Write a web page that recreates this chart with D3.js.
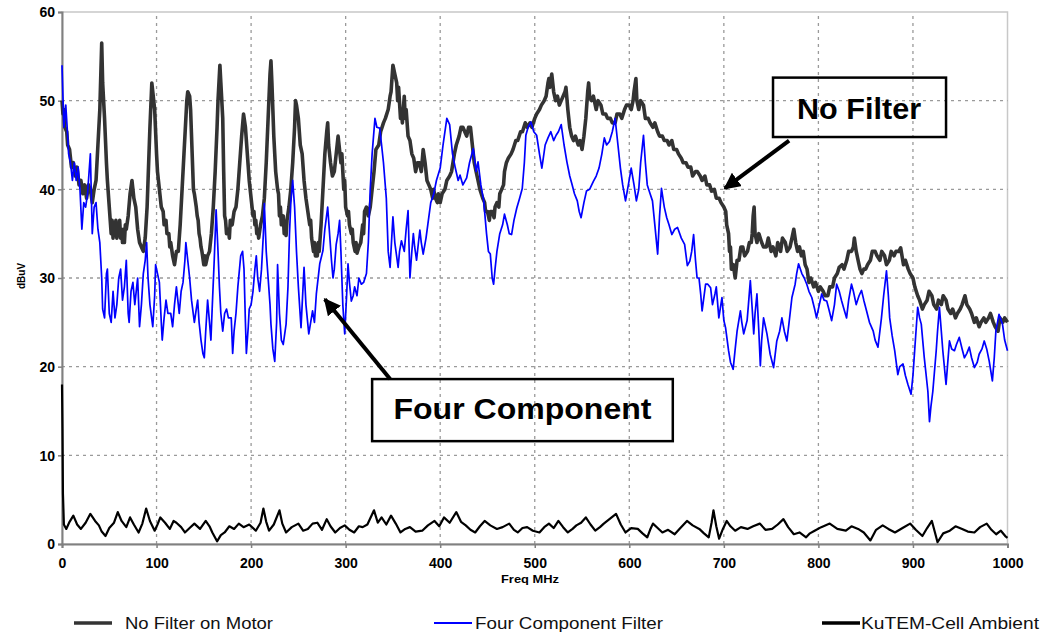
<!DOCTYPE html>
<html><head><meta charset="utf-8">
<script src="https://cdn.jsdelivr.net/npm/d3@7"></script>
<style>
html,body{margin:0;padding:0;background:#fff;}
svg{display:block;}
</style></head>
<body>
<svg id="chart" width="1050" height="633"></svg>
<script>
// ---------------- DATA ----------------
const xTicks = [0,100,200,300,400,500,600,700,800,900,1000];
const yTicks = [0,10,20,30,40,50,60];
const seriesNames = ["No Filter on Motor","Four Component Filter","KuTEM-Cell Ambient"];

// [Freq MHz, dBuV]
const noFilter = [[0,50],[1,48.5],[2,49],[3,47],[5,46.5],[6,45],[8,44.5],[10,42.5],[12,43],[14,41.5],[16,42.5],[18,40.5],[20,41],[22,39.5],[24,40.5],[26,39],[28,40.5],[30,40],[32,38.5],[34,40],[36,41],[38,45],[40,49],[42,56.5],[43,52],[45,48],[47,43],[48,41],[50,38],[51,36.5],[52,35],[53,36.5],[54,34.5],[55,36],[56,35],[57,36.5],[58,34.5],[59,36],[60,35],[61,36.5],[62,34.5],[63,35.5],[64,34],[65,35.5],[66,34],[67,36],[68,35.5],[70,37],[72,39.5],[74,41],[76,39],[78,38],[80,35.5],[82,34],[84,33.5],[86,33],[88,34.5],[90,38],[92,44],[93,47],[95,52],[96,51],[98,49],[100,44],[101,42],[103,40],[105,38],[107,37.5],[108,36],[110,36.5],[111,35],[113,35],[114,33.5],[115,34],[117,32.5],[119,31.5],[121,33],[123,33],[125,36],[127,40],[129,44],[130,46],[132,50],[133,51],[135,50.5],[136,49],[138,43],[139,40],[140,39.5],[142,38],[143,37],[144,36.5],[145,35],[146,34.5],[147,33.5],[148,33],[150,31.5],[151,32.5],[152,31.5],[154,32.5],[156,33],[158,35],[160,38],[162,42],[164,47],[165,50],[167,54],[168,52],[170,48],[171,42],[172,37],[173,36.5],[174,35],[176,35.5],[177,34.5],[178,36.5],[180,36],[182,37.5],[184,38],[186,40],[188,43],[190,46],[192,48.5],[194,47],[196,44],[198,41],[200,39],[202,37],[203,37.5],[204,36],[205,36.5],[206,35],[207,35.5],[208,34.5],[210,36],[212,37],[214,39],[216,43],[218,48],[220,53],[221,54.5],[222,52],[224,46],[226,42],[228,40],[229,39.5],[230,37],[231,38],[232,36],[234,37],[235,35],[236,35.5],[237,34.8],[238,36.5],[240,38],[242,40],[244,43],[246,47],[247,50],[248,49.5],[250,48],[252,45],[254,44],[256,41],[258,39],[260,37.5],[262,36],[263,36.5],[264,34.5],[266,33],[267,34],[268,32.5],[270,32.5],[271,34],[272,33],[274,36],[276,40],[278,44],[280,46.5],[281,47.5],[282,45],[284,43],[286,41.5],[288,42],[290,44],[292,46],[293,45],[295,43],[296,44],[298,40],[299,41],[300,38],[302,37],[303,37.5],[304,36],[306,35],[307,35.5],[308,34],[310,33],[311,34],[312,32.8],[314,33.5],[316,34],[318,36],[319,35],[320,37.5],[322,38],[324,37],[326,38],[328,40],[330,42],[332,44.5],[335,45],[337,46.5],[340,47.5],[342,48],[345,49],[347,50.5],[348,51],[350,54],[352,53],[354,52],[355,50],[356,51.5],[358,48],[359,49],[360,47.5],[362,50.5],[363,48],[364,49],[366,46],[368,45.5],[370,44],[372,43.5],[374,42],[376,43],[378,43],[380,42],[382,44.5],[384,43],[386,41],[388,40.5],[390,40],[392,39],[393,40],[395,39],[397,38.5],[398,39.5],[400,38.5],[402,39.5],[405,40],[407,41],[410,41.5],[412,42],[415,44],[417,45],[420,46],[422,47],[424,47],[426,46.5],[428,46],[430,47],[432,47],[434,45],[436,43],[438,42],[440,41],[442,40],[445,39],[447,38.5],[448,37.5],[450,37.5],[452,36.5],[453,37.5],[455,37.5],[457,36.8],[458,38],[460,38.5],[462,38],[463,39.5],[465,40],[467,40.5],[468,42],[470,43],[472,43.5],[475,44],[477,44.5],[480,45.5],[482,45.5],[485,46.5],[487,46.5],[490,47.5],[492,47],[495,47.5],[497,47],[500,48],[502,48.5],[505,49],[507,49.5],[510,50],[512,50.5],[514,52],[515,52.5],[516,51.5],[518,53],[520,51],[522,50],[524,50.5],[526,49.5],[528,50],[530,50.5],[532,51],[533,51.5],[535,49],[537,47],[539,46],[541,45.5],[543,46],[546,45],[548,45.5],[550,44.5],[552,46],[554,48],[556,51],[557,52],[558,50.5],[560,50],[562,50.5],[565,49],[567,50],[570,49.5],[572,48.5],[575,48.5],[577,48],[580,48],[582,47.5],[585,47.5],[587,48.5],[590,48.5],[592,48],[595,49],[597,49.5],[600,49.5],[602,49],[604,50],[605,51],[607,52.5],[608,50],[610,49],[612,50],[615,49.5],[617,48],[620,48],[622,47.5],[625,47],[627,47.5],[630,46.5],[632,46],[635,46],[637,45.5],[640,45.5],[642,45],[645,45.5],[647,44.5],[650,44.5],[652,44],[655,43.5],[657,43],[660,43],[662,42.5],[665,42.5],[667,41.5],[670,42],[672,42],[675,41.5],[677,41],[680,41.5],[682,40.5],[685,40.5],[687,39.8],[690,40],[692,39],[695,39],[697,38.5],[700,38],[702,37.5],[703,36],[705,35],[706,33],[707,33.5],[708,31],[710,31.5],[712,30],[714,32],[716,32],[718,33.5],[720,33.5],[722,32.5],[725,33],[727,34],[729,34],[730,35],[731,37],[732,38],[733,35],[735,34],[737,35],[740,34],[742,33.5],[745,33.5],[747,34.5],[750,33],[752,33.5],[755,32.5],[757,34],[760,33],[762,34.5],[765,34],[767,33],[770,33.5],[772,34.5],[774,35.5],[776,34],[778,33],[780,33.5],[782,32.5],[784,33],[786,31.5],[788,31],[790,29.5],[792,30],[795,29],[797,29.5],[800,28.5],[802,29],[805,28.5],[807,28],[810,28],[812,29],[815,29],[817,30],[820,30.5],[822,31.2],[825,31.5],[827,31],[830,32],[832,33],[835,33],[837,33.5],[838,34.5],[840,33],[842,32],[844,31],[846,30.5],[848,31],[850,31],[852,31.5],[855,32],[857,33],[860,33],[862,32.5],[865,32],[867,33],[870,32.5],[872,31.5],[875,32],[877,33],[880,32.5],[882,33],[885,33],[887,33.4],[890,31.5],[892,32],[895,31],[897,30.5],[900,30],[902,29],[905,28],[907,27.5],[910,26.5],[912,27],[915,27.5],[917,28.5],[920,28],[922,27],[925,26.5],[927,27.5],[930,27],[932,28],[935,27.5],[937,26.5],[940,26],[942,26.5],[945,25.5],[947,26],[950,26.5],[952,27],[955,28],[957,27],[960,26.5],[962,26],[965,25],[967,25.5],[970,24.5],[972,25],[975,25.5],[977,25],[980,25.5],[982,26],[985,25],[987,24.5],[990,24],[992,25.5],[995,25],[997,25.5],[1000,25]];

const fourComponent = [[0,54],[1,50.5],[2,47],[4,49.5],[6,46],[7,44],[9,43],[11,41],[13,43],[15,41],[17,42.5],[19,40],[21,35.5],[23,38.5],[25,38],[27,39.5],[30,44],[32,35],[34,38],[36,38.5],[38,35.5],[40,34],[42,30],[43,26.5],[45,25.5],[47,30.5],[48,31],[50,26],[52,25],[54,28.5],[56,25.5],[58,27],[60,30],[62,31],[64,27.5],[66,29],[68,32],[70,26],[71,25],[73,28.5],[75,29.5],[77,27],[80,30],[82,24.5],[84,27],[86,30.5],[88,32],[89.5,34],[91,30],[93,27],[96,24.5],[98,28],[99,31.5],[101,30.5],[103,29.5],[105,25],[106,23],[108,25.5],[110,27.5],[112,26],[115,26],[117,24.5],[119,27],[121,29],[123,27],[124,26],[126,28.5],[128,29.5],[130,32],[131,34],[133,32],[135,30],[137,27.5],[140,25],[142,26.5],[143.5,27.5],[145,25],[147,23],[149,21.5],[150.5,21],[152,24],[154,27.5],[156,25],[157.5,23],[159,27],[161,32],[163,37.7],[165,33],[166.5,29],[168,26],[170,24],[172,26],[174,26.5],[176,25.5],[179,25.5],[180.5,21.5],[182,24],[184,26],[186,29],[189,32.5],[191,33],[192.5,31],[194,25],[195,21.5],[197,24.5],[198,26.5],[200,27],[202,28.5],[204,31],[205.5,32.5],[207,30],[209,28.5],[211,31],[213,35],[214,38.4],[216,33],[218,30],[220,27],[221,24.8],[223,22],[225,20.6],[227,25],[228,31.5],[230,26],[232,23],[234,22.5],[237,24.8],[239,29],[240.6,35],[242,38.5],[244,41],[246,38],[248,33],[250,29],[252.8,24.4],[254,27],[256,31.2],[258,27],[261,23.7],[263,25],[265,26.3],[267,25],[269,28.2],[272.6,31.6],[276,33.1],[278,35.5],[281,38],[283,35],[285,32],[286.6,30],[288,31],[290,33.8],[292,35],[293.6,36.5],[295,33],[297,27],[299,23.7],[301,28],[302.5,31.6],[304,29.5],[306,27.4],[308,28],[309.5,29],[312,28],[314,30],[316.6,29.3],[319,29.5],[322,30.5],[324,34],[326,40],[328,44],[331,48],[333,47],[336,46.9],[338,45],[340,43],[343,39],[345,33],[347,31.2],[349,35],[350,36.9],[352,34],[355.5,31.2],[357,33],[359,34.2],[362,33],[364,35.5],[366,37.6],[368,30],[370,33],[371.6,35],[373,33.5],[375,32],[377,34],[378.5,35.4],[380,34],[382,32.7],[385,34.5],[387,36.1],[390,38.5],[393,39.4],[396,41],[400,42.4],[403,45],[407,48],[410,47.3],[413,44],[416,42.4],[419,41],[421,41.6],[424,40.5],[428,41.3],[431,43],[435,44.6],[438,42],[440,43.1],[443,40.5],[446,38.7],[449,35],[451,33],[453,32.7],[455,30],[456.5,29.3],[458,31],[460,33],[463,35],[466,36],[468,37.2],[471,36],[473,35],[475.5,34.9],[478,36.5],[481,37.9],[484,39],[486.8,40.1],[489,43],[490.6,46.1],[493,47],[496,47.6],[499,46.5],[502,46.1],[505,44],[507.5,42.4],[509,43.5],[511,45],[514,45.8],[517,46.5],[520,45.5],[522.6,46.1],[525,46.5],[528,47.3],[531,45],[534,43.1],[537,41.5],[539.6,40.5],[542,39.5],[545,38.7],[547,37.5],[549,36.8],[552,38.5],[554.7,39.8],[558,40],[562,40.9],[565,41.5],[568,42.4],[571,44],[573.6,45.8],[576,45],[579,45.4],[582,46.5],[585,48],[588,45],[590.6,42.4],[593,40.5],[596,38.7],[599,40.5],[602,42.4],[605,40.5],[607.5,38.7],[610,40],[612,43],[615,46.1],[617,43],[619,40.5],[622,39.5],[624.5,38.7],[627,36],[630,32.7],[632,37],[634,40.1],[637,38],[639.6,36.8],[642,36],[645,34.9],[648,35.5],[651,35.7],[655,34.5],[658.5,33.8],[661.4,31.4],[664,31.9],[666,33],[668,34.9],[670,32],[671.7,30],[673.7,30],[675.5,28.2],[677,26.3],[680.7,29.3],[683,29.3],[686,28.9],[688,27],[690.6,28.2],[692,29],[694.7,25.5],[698,27.8],[700,25.2],[701.8,24.4],[705,21.8],[707,20.5],[709.8,19.7],[712,22],[714,24],[717.5,26.3],[719,25],[721,23.7],[724.6,25.2],[726,27],[728,29.7],[730,26.5],[731.6,23.7],[733,26],[735,28.2],[737,24],[738.6,20.1],[740,23],[742,25.5],[744,24.5],[745.6,23.7],[749,21.4],[752.6,19.9],[756,22.9],[759,24],[761.4,25.5],[764,24],[766.7,22.9],[769,25],[772,27.8],[775.4,29.3],[777,30.5],[779,31.6],[782.5,30.5],[785,30],[787.7,29.3],[790,28.5],[793,27.8],[796,26.5],[798,25.5],[801,27],[803.5,28.2],[806,27.5],[808.8,27.4],[811,26.5],[814,25.2],[817,27],[819.3,29.3],[822,28.5],[824.6,27.4],[827,26.5],[829.8,25.5],[832,27.5],[835,29.3],[837,28.5],[840,27],[843,28],[845.6,28.6],[848,27.5],[850.9,26.3],[854,25],[858,24],[860,23],[863,22.2],[866.7,25.5],[869,28],[872,30.8],[874,28],[875.4,25.5],[878,23.5],[880.7,21.8],[884,19.1],[886,20],[889.5,20.3],[892,19],[894.7,18],[898,16.9],[900,19],[901.8,21.8],[905,26.7],[907,25.5],[908.8,24.8],[912,21],[914,19],[915.8,17.2],[917.5,13.8],[919,15.5],[921,17.2],[924.6,21.8],[926,24],[928,26.7],[930,24],[931.6,21.8],[935,18],[938.6,22.9],[941,22],[943.9,21.8],[946,22.5],[949,23.3],[952,22],[954.4,21],[957,21.5],[959.6,22.2],[962,21],[965,19.9],[968,20.5],[970,21.4],[973,22],[975.4,22.9],[978,22],[980.7,20.6],[984,18.4],[986,21],[987.7,24],[991,25.9],[994.7,24.8],[997,23],[1000,21.8]];

const ambient = [[0,18],[0.5,13],[1,5.7],[2,2.2],[4.5,1.7],[8,2.5],[12,3.2],[16,2.2],[20,1.7],[25,2.4],[30,3.4],[35,2.6],[39,2.1],[42,1.4],[46,0.9],[50,1.8],[55,2.4],[59,3.6],[63,2.6],[68,1.9],[72,3],[76,2.2],[81,1.3],[85,2.3],[89,4],[93,2.6],[98,1.5],[101,2.2],[104,3],[109,2.4],[114,1.7],[118,2.6],[121,2.4],[126,1.9],[130,1.3],[135,1.8],[140,2.3],[146,1.7],[152,2.6],[156,2],[159,1.3],[164,0.3],[168,1],[172,1.3],[177,2],[182,1.7],[187,2.3],[192,1.9],[198,2.2],[205,1.5],[210,2.4],[213,4],[216,2.5],[219,1.5],[224,2.2],[230,3.8],[233,2.3],[237,1.3],[243,1.9],[250,2.3],[255,1.5],[260,1.7],[265,2.3],[270,2.4],[275,1.6],[280,2.8],[284,2],[289,1.3],[294,1.8],[299,2.1],[304,1.6],[309,1.3],[314,2],[318,1.9],[323,2.2],[330,3.8],[334,2.4],[338,3],[343,2.2],[348,3.2],[353,2.3],[358,1.3],[363,1.7],[368,1.9],[374,1.4],[381,1.5],[387,2.1],[394,2.6],[399,2],[404,3],[410,2.4],[417,3.6],[422,2.5],[427,2.1],[432,1.6],[437,1.3],[442,2],[447,2.6],[453,2.1],[460,1.7],[466,1.9],[473,2.3],[478,1.6],[482,1.3],[487,1.8],[492,1.9],[498,1.5],[505,1.3],[510,1.9],[515,2.3],[520,1.8],[525,2.6],[530,1.9],[535,1.3],[540,1.7],[544,2.1],[549,2.4],[554,3],[559,2.2],[564,1.5],[569,1.9],[573,2.3],[579,2.8],[586,3.4],[591,2.2],[596,1.3],[602,1.8],[609,1.7],[614,1.2],[619,0.75],[622,1.6],[625,2.3],[630,1.8],[635,1.3],[641,1.6],[648,1.1],[654,1.8],[661,2.6],[667,2.1],[674,1.7],[679,1.2],[684,0.75],[687,2.4],[689,3.8],[692,2],[695,0.6],[699,1.7],[703,2.6],[707,2],[712,1.5],[718,1.9],[725,1.7],[731,2],[738,2.3],[744,1.6],[751,1.7],[757,2.2],[763,2.8],[768,1.9],[774,1.1],[780,1.3],[787,0.75],[791,1.2],[796,1.5],[803,1.9],[812,2.3],[820,1.7],[829,1.5],[835,2],[842,1.7],[848,1.3],[855,0.4],[861,1.6],[868,2.1],[874,1.7],[881,1.3],[889,1.8],[897,2.3],[903,1.6],[910,0.9],[915,1.8],[920,2.6],[923,1.4],[926,0.2],[932,1.2],[939,1.5],[945,2],[952,1.7],[958,1.4],[965,1.3],[971,1.9],[978,2.3],[983,1.6],[988,1.1],[993,1.5],[997.6,0.9],[1000,0.7]];

// annotation boxes, in data units
const annotations = [
  {text:"No Filter", x0:752, x1:935, y0:52.6, y1:45.9, tx:843, ty:47.9, len:124, from:[769,45.5], to:[701,40.1]},
  {text:"Four Component", x0:328, x1:646, y0:18.6, y1:11.6, tx:487, ty:14.1, len:258, from:[347,18.6], to:[278,27.6]}
];

// ---------------- CHART ----------------
const svg = d3.select("#chart");
const W = 1050, H = 633;
svg.append("rect").attr("width",W).attr("height",H).attr("fill","#fff");

const x = d3.scaleLinear().domain([0,1000]).range([62,1007.5]);
const y = d3.scaleLinear().domain([0,60]).range([544,12]);

// plot border (top / right light)
svg.append("rect").attr("x",x(0)).attr("y",y(60)).attr("width",x(1000)-x(0)).attr("height",y(0)-y(60))
  .attr("fill","none").attr("stroke","#c8c8c8").attr("stroke-width",1.5);

// grid
const grid = svg.append("g").attr("stroke","#9a9a9a").attr("stroke-width",1.3).attr("stroke-dasharray","3,4");
grid.selectAll("line.h").data(yTicks.filter(d=>d>0&&d<60)).join("line")
  .attr("x1",x(0)).attr("x2",x(1000)).attr("y1",d=>y(d)).attr("y2",d=>y(d));
grid.selectAll("line.v").data(xTicks.filter(d=>d>0&&d<1000)).join("line")
  .attr("y1",y(0)).attr("y2",y(60)).attr("x1",d=>x(d)).attr("x2",d=>x(d));

// axes
const xAxis = d3.axisBottom(x).tickValues(xTicks).tickSize(4).tickPadding(10).tickFormat(d3.format("d"));
const yAxis = d3.axisLeft(y).tickValues(yTicks).tickSize(4).tickPadding(3).tickFormat(d3.format("d"));
const gx = svg.append("g").attr("transform",`translate(0,${y(0)})`).call(xAxis);
const gy = svg.append("g").attr("transform",`translate(${x(0)},0)`).call(yAxis);
[gx,gy].forEach(g=>{
  g.select(".domain").attr("stroke","#808080").attr("stroke-width",2);
  g.selectAll(".tick line").attr("stroke","#808080").attr("stroke-width",1.5);
  g.selectAll(".tick text").attr("fill","#000").style("font-family","Arial, 'Liberation Sans', sans-serif")
    .style("font-weight","bold").style("font-size","14px");
});
gy.selectAll(".tick text").attr("dy","0.35em");

// axis titles
svg.append("text").attr("x",530).attr("y",583).attr("text-anchor","middle")
  .style("font-family","Arial, 'Liberation Sans', sans-serif").style("font-weight","bold").style("font-size","11px")
  .attr("textLength",58).attr("lengthAdjust","spacingAndGlyphs").text("Freq MHz");
svg.append("text").attr("transform","translate(25,276) rotate(-90)").attr("text-anchor","middle")
  .style("font-family","Arial, 'Liberation Sans', sans-serif").style("font-weight","bold").style("font-size","10px")
  .text("dBuV");

// lines
const line = d3.line().x(d=>x(d[0])).y(d=>y(d[1]));
const plot = svg.append("g");
plot.append("path").datum(noFilter).attr("d",line).attr("fill","none").attr("stroke","#333")
  .attr("stroke-width",3.6).attr("stroke-linejoin","round");
plot.append("path").datum(fourComponent).attr("d",line).attr("fill","none").attr("stroke","#0000ff")
  .attr("stroke-width",1.7).attr("stroke-linejoin","round");
plot.append("path").datum(ambient).attr("d",line).attr("fill","none").attr("stroke","#000")
  .attr("stroke-width",2.2).attr("stroke-linejoin","round");

// annotations
svg.append("defs").append("marker").attr("id","arrow").attr("viewBox","0 0 10 10")
  .attr("refX",9).attr("refY",5).attr("markerWidth",4.2).attr("markerHeight",4.2).attr("orient","auto")
  .attr("markerUnits","strokeWidth")
  .append("path").attr("d","M0,0 L10,5 L0,10 z").attr("fill","#000");
const ann = svg.append("g");
annotations.forEach(a=>{
  ann.append("rect").attr("x",x(a.x0)).attr("y",y(a.y0)).attr("width",x(a.x1)-x(a.x0)).attr("height",y(a.y1)-y(a.y0))
    .attr("fill","none").attr("stroke","#000").attr("stroke-width",2.5);
  ann.append("text").attr("x",x(a.tx)).attr("y",y(a.ty)).attr("text-anchor","middle")
    .style("font-family","Arial, 'Liberation Sans', sans-serif").style("font-weight","bold").style("font-size","29px")
    .attr("textLength",a.len).attr("lengthAdjust","spacingAndGlyphs").text(a.text);
  ann.append("line").attr("x1",x(a.from[0])).attr("y1",y(a.from[1])).attr("x2",x(a.to[0])).attr("y2",y(a.to[1]))
    .attr("stroke","#000").attr("stroke-width",4).attr("marker-end","url(#arrow)");
});

// legend
const legendItems = [
  {name:seriesNames[0], color:"#333", w:3.5, lx:74, tx:125, len:148},
  {name:seriesNames[1], color:"#0000ff", w:2.2, lx:434, tx:475, len:188},
  {name:seriesNames[2], color:"#000", w:3.5, lx:822, tx:861, len:178}
];
const leg = svg.append("g");
legendItems.forEach(l=>{
  leg.append("line").attr("x1",l.lx).attr("x2",l.lx+38).attr("y1",623).attr("y2",623)
    .attr("stroke",l.color).attr("stroke-width",l.w);
  leg.append("text").attr("x",l.tx).attr("y",629)
    .style("font-family","Arial, 'Liberation Sans', sans-serif").style("font-size","17px").attr("fill","#111")
    .attr("textLength",l.len).attr("lengthAdjust","spacingAndGlyphs").text(l.name);
});
</script>
</body></html>
